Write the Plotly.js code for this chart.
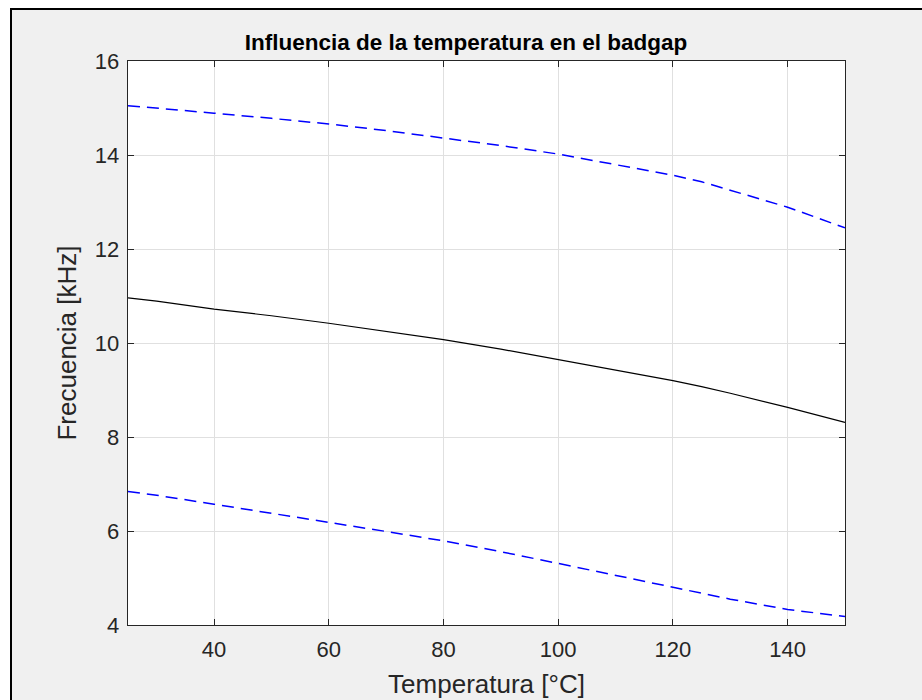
<!DOCTYPE html>
<html>
<head>
<meta charset="utf-8">
<script src="https://cdn.plot.ly/plotly-3.0.1.min.js"></script>
<style>
  html, body { margin: 0; padding: 0; background: #ffffff; width: 922px; height: 700px; overflow: hidden; }
  #frame { position: absolute; left: 10px; top: 8px; width: 920px; height: 700px;
           border-left: 2px solid #000; border-top: 2px solid #000; background: #f0f0f0; }
  #chart { position: absolute; left: 0; top: 0; width: 922px; height: 700px; }
</style>
</head>
<body>
<div id="frame"></div>
<div id="chart"></div>
<script>
// Temperature (°C)
const temperatura = [25, 30, 40, 50, 60, 70, 80, 90, 100, 110, 120, 125, 130, 140, 150];
// Nominal frequency (kHz)
const frecuencia = [10.96, 10.89, 10.72, 10.58, 10.42, 10.25, 10.07, 9.87, 9.65, 9.43, 9.20, 9.07, 8.93, 8.63, 8.31];
// Upper bound (kHz)
const frecuenciaMax = [15.05, 15.00, 14.89, 14.78, 14.66, 14.52, 14.36, 14.20, 14.02, 13.80, 13.57, 13.43, 13.25, 12.89, 12.45];
// Lower bound (kHz)
const frecuenciaMin = [6.84, 6.76, 6.57, 6.38, 6.18, 5.99, 5.79, 5.56, 5.31, 5.06, 4.80, 4.67, 4.55, 4.33, 4.18];

const xTicks = [40, 60, 80, 100, 120, 140];
const yTicks = [4, 6, 8, 10, 12, 14, 16];

const font = 'Liberation Sans, Arial, Helvetica, sans-serif';
const axisCol = '#262626';

const traces = [
  { x: temperatura, y: frecuencia, mode: 'lines', line: { color: '#000000', width: 1.2 } },
  { x: temperatura, y: frecuenciaMax, mode: 'lines', line: { color: '#0000ff', width: 1.5, dash: '12px,7px' } },
  { x: temperatura, y: frecuenciaMin, mode: 'lines', line: { color: '#0000ff', width: 1.5, dash: '12px,7px' } }
];

const layout = {
  width: 922, height: 700,
  paper_bgcolor: 'rgba(0,0,0,0)',
  plot_bgcolor: '#ffffff',
  showlegend: false,
  margin: { l: 128, r: 77, t: 61, b: 75, pad: 0 },
  title: {
    text: '<b>Influencia de la temperatura en el badgap</b>',
    font: { family: font, size: 22.5, color: '#000000' },
    x: 466 / 922, xanchor: 'center',
    y: 1 - 42 / 700, yanchor: 'middle'
  },
  xaxis: {
    range: [25, 150],
    tickvals: xTicks,
    ticktext: xTicks.map(String),
    ticks: 'inside', ticklen: 6, tickcolor: axisCol, tickwidth: 1,
    ticklabelstandoff: 4,
    showline: true, linecolor: axisCol, linewidth: 1.3, mirror: 'ticks',
    showgrid: true, gridcolor: '#e0e0e0', gridwidth: 1,
    zeroline: false,
    tickfont: { family: font, size: 22, color: axisCol },
    title: { text: 'Temperatura [°C]', font: { family: font, size: 26, color: axisCol }, standoff: 14 }
  },
  yaxis: {
    range: [4, 16],
    tickvals: yTicks,
    ticktext: yTicks.map(String),
    ticks: 'inside', ticklen: 6, tickcolor: axisCol, tickwidth: 1,
    ticklabelstandoff: 3,
    showline: true, linecolor: axisCol, linewidth: 1.3, mirror: 'ticks',
    showgrid: true, gridcolor: '#e0e0e0', gridwidth: 1,
    zeroline: false,
    tickfont: { family: font, size: 22, color: axisCol },
    title: { text: 'Frecuencia [kHz]', font: { family: font, size: 26, color: axisCol }, standoff: 10 }
  }
};

Plotly.newPlot('chart', traces, layout, { displayModeBar: false, staticPlot: true });
</script>
</body>
</html>
